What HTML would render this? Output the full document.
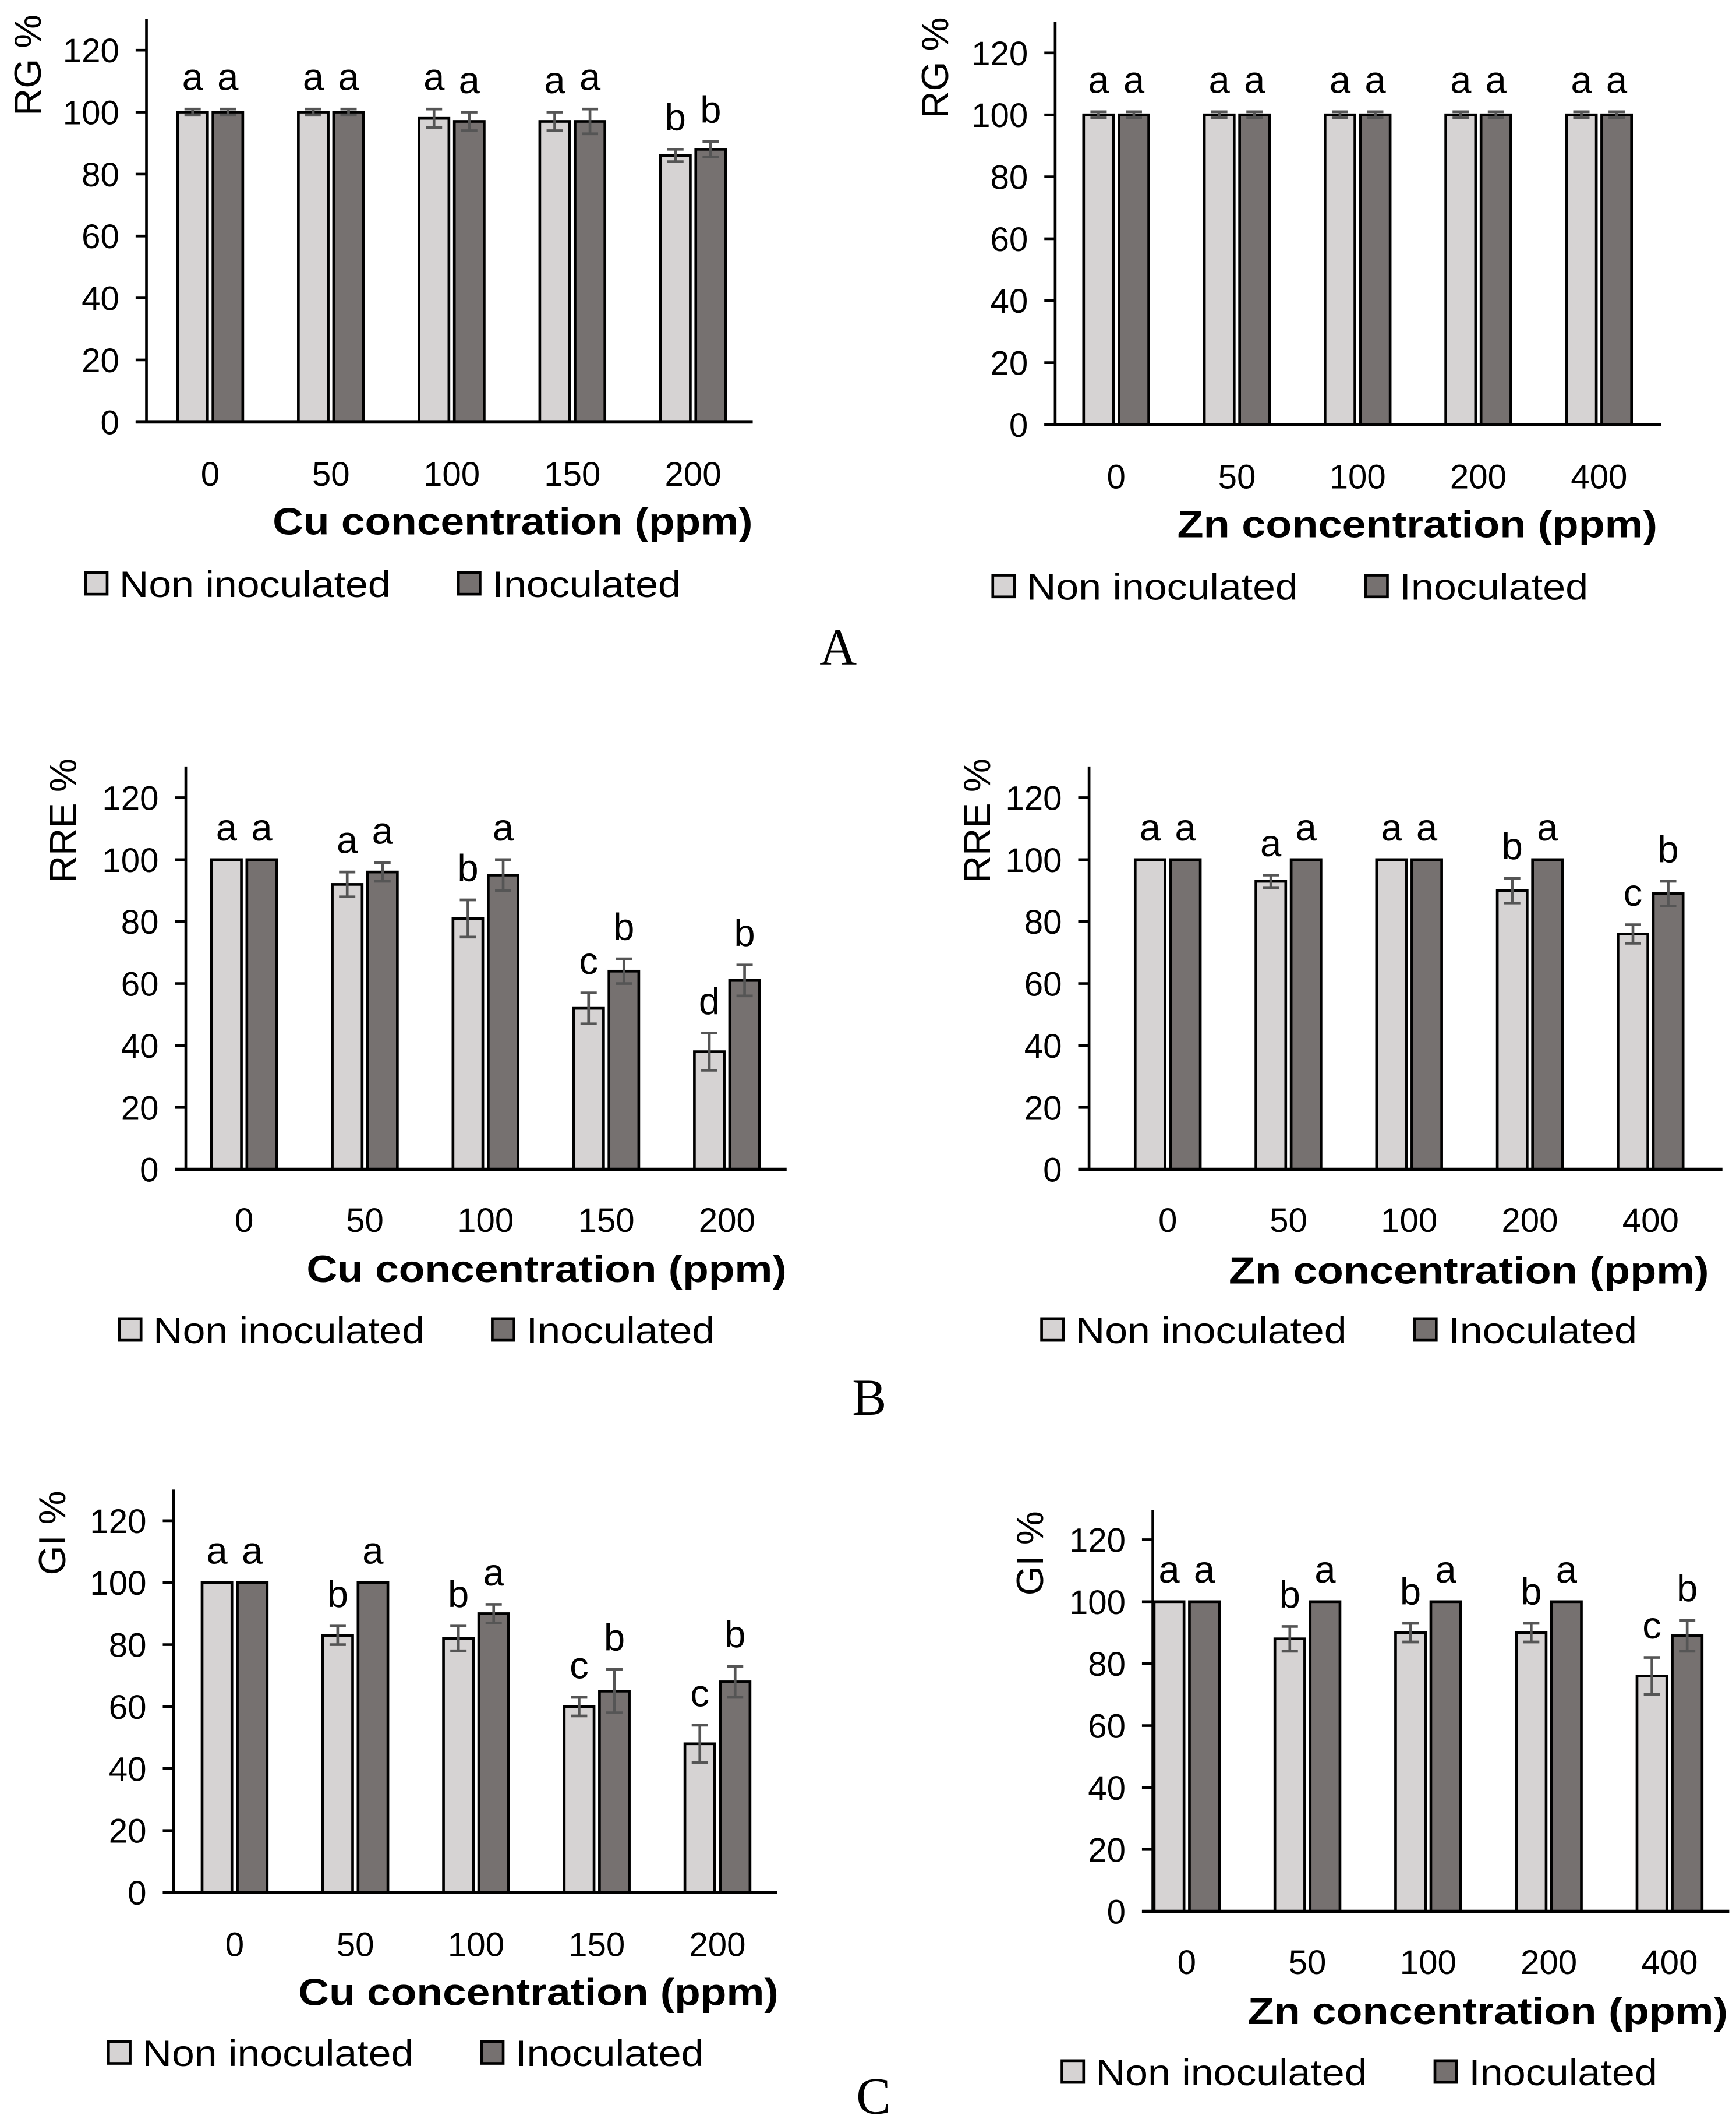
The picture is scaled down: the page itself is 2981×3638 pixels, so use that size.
<!DOCTYPE html>
<html><head><meta charset="utf-8"><style>
html,body{margin:0;padding:0;background:#fff}
svg{display:block}
text{font-family:"Liberation Sans",sans-serif;fill:#000}
</style></head><body>
<svg id="fig" width="2981" height="3638" viewBox="0 0 1280 1562" preserveAspectRatio="none" xmlns="http://www.w3.org/2000/svg"></svg>
<script>
const cuCats = ["0","50","100","150","200"];
const znCats = ["0","50","100","200","400"];
const yTicks = [0,20,40,60,80,100,120];
const aL_non = [100,100,98,97,86];
const aL_nonErr = [1,1,3,3,2];
const aL_ino = [100,100,97,97,88];
const aL_inoErr = [1,1,3,4,2.5];
const aL_letN = ["a","a","a","a","b"];
const aL_letI = ["a","a","a","a","b"];
const aR_non = [100,100,100,100,100];
const aR_nonErr = [1,1,1,1,1];
const aR_ino = [100,100,100,100,100];
const aR_inoErr = [1,1,1,1,1];
const aR_letN = ["a","a","a","a","a"];
const aR_letI = ["a","a","a","a","a"];
const bL_non = [100,92,81,52,38];
const bL_nonErr = [0,4,6,5,6];
const bL_ino = [100,96,95,64,61];
const bL_inoErr = [0,3,5,4,5];
const bL_letN = ["a","a","b","c","d"];
const bL_letI = ["a","a","a","b","b"];
const bR_non = [100,93,100,90,76];
const bR_nonErr = [0,2,0,4,3];
const bR_ino = [100,100,100,100,89];
const bR_inoErr = [0,0,0,0,4];
const bR_letN = ["a","a","a","b","c"];
const bR_letI = ["a","a","a","a","b"];
const cL_non = [100,83,82,60,48];
const cL_nonErr = [0,3,4,3,6];
const cL_ino = [100,100,90,65,68];
const cL_inoErr = [0,0,3,7,5];
const cL_letN = ["a","b","b","c","c"];
const cL_letI = ["a","a","a","b","b"];
const cR_non = [100,88,90,90,76];
const cR_nonErr = [0,4,3,3,6];
const cR_ino = [100,100,100,100,89];
const cR_inoErr = [0,0,0,0,5];
const cR_letN = ["a","b","b","b","c"];
const cR_letI = ["a","a","a","a","b"];

const NS="http://www.w3.org/2000/svg";
const svg=document.getElementById('fig');
function mk(tag,attrs,parent,txt){const e=document.createElementNS(NS,tag);for(const k in attrs)e.setAttribute(k,attrs[k]);if(txt!==undefined)e.textContent=txt;(parent||svg).appendChild(e);return e;}

const panels=[
 {id:'a-left',ax:108,y0:311,y120:37,top:14,xend:555,c0:155,yt:'RG %',ytx:20,yty:48,xl:349,xt:'Cu concentration (ppm)',xtc:378,xty:394,lg:430,l1:63,l2:338,cats:cuCats,non:aL_non,ne:aL_nonErr,ino:aL_ino,ie:aL_inoErr,ln:aL_letN,li:aL_letI},
 {id:'a-right',ax:778,y0:313,y120:39,top:16,xend:1225,c0:823,yt:'RG %',ytx:689,yty:50,xl:351,xt:'Zn concentration (ppm)',xtc:1045,xty:396,lg:432,l1:732,l2:1007,cats:znCats,non:aR_non,ne:aR_nonErr,ino:aR_ino,ie:aR_inoErr,ln:aR_letN,li:aR_letI},
 {id:'b-left',ax:137,y0:862,y120:588,top:565,xend:580,c0:180,yt:'RRE %',ytx:46,yty:605,xl:899,xt:'Cu concentration (ppm)',xtc:403,xty:945,lg:980,l1:88,l2:363,cats:cuCats,non:bL_non,ne:bL_nonErr,ino:bL_ino,ie:bL_inoErr,ln:bL_letN,li:bL_letI},
 {id:'b-right',ax:803,y0:862,y120:588,top:565,xend:1270,c0:861,yt:'RRE %',ytx:720,yty:605,xl:899,xt:'Zn concentration (ppm)',xtc:1083,xty:946,lg:980,l1:768,l2:1043,cats:znCats,non:bR_non,ne:bR_nonErr,ino:bR_ino,ie:bR_inoErr,ln:bR_letN,li:bR_letI},
 {id:'c-left',ax:128,y0:1395,y120:1121,top:1098,xend:573,c0:173,yt:'GI %',ytx:38,yty:1130,xl:1433,xt:'Cu concentration (ppm)',xtc:397,xty:1478,lg:1513,l1:80,l2:355,cats:cuCats,non:cL_non,ne:cL_nonErr,ino:cL_ino,ie:cL_inoErr,ln:cL_letN,li:cL_letI},
 {id:'c-right',ax:850,y0:1409,y120:1135,top:1113,xend:1275,c0:875,yt:'GI %',ytx:759,yty:1145,xl:1446,xt:'Zn concentration (ppm)',xtc:1097,xty:1492,lg:1527,l1:783,l2:1058,cats:znCats,non:cR_non,ne:cR_nonErr,ino:cR_ino,ie:cR_inoErr,ln:cR_letN,li:cR_letI}
];
const LIGHT='#d6d3d3', DARK='#767170', ERR='#555';
panels.forEach(p=>{
  const g=mk('g',{});
  
  
  const y=v=>p.y0-(p.y0-p.y120)*v/120;
  const x=i=>p.c0+89*i;
  p.cats.forEach((c,i)=>{
    [[p.non,p.ne,p.ln,-13,LIGHT,'non-inoculated'],[p.ino,p.ie,p.li,13,DARK,'inoculated']].forEach(s=>{
      const v=s[0][i], e=s[1][i], cx=x(i)+s[3];
      const r=mk('rect',{x:cx-11,y:y(v),width:22,height:p.y0-y(v),fill:s[4],stroke:'#000','stroke-width':2},g);
      
      
      if(e>0){
        const eb=mk('path',{d:`M${cx} ${y(v+e)}V${y(v-e)}M${cx-6} ${y(v+e)}H${cx+6}M${cx-6} ${y(v-e)}H${cx+6}`,stroke:ERR,'stroke-width':2,fill:'none'},g);
        
        
      }
      const t=mk('text',{x:cx,y:y(v+e)-14,'text-anchor':'middle','font-size':28},g,s[2][i]);
      
      
    });
    const xl=mk('text',{x:x(i),y:p.xl+9,'text-anchor':'middle','font-size':25},g,c);
    
    
  });
  const ya=mk('line',{x1:p.ax,y1:p.top,x2:p.ax,y2:p.y0,stroke:'#000','stroke-width':2},g);
  
  
  const xa=mk('line',{x1:p.ax-8,y1:p.y0,x2:p.xend,y2:p.y0,stroke:'#000','stroke-width':2.5},g);
  
  
  yTicks.forEach(t=>{
    mk('line',{x1:p.ax-8,y1:y(t),x2:p.ax,y2:y(t),stroke:'#000','stroke-width':2},g);
    const tl=mk('text',{x:p.ax-20,y:y(t)+9,'text-anchor':'end','font-size':25},g,String(t));
    
    
  });
  const yt=mk('text',{x:0,y:0,'text-anchor':'middle','font-size':28,transform:`translate(${p.ytx+10},${p.yty}) rotate(-90)`},g,p.yt);
  
  
  const xt=mk('text',{x:p.xtc,y:p.xty,'text-anchor':'middle','font-size':28,'font-weight':'bold',textLength:354,lengthAdjust:'spacingAndGlyphs'},g,p.xt);
  
  
  const lg=mk('g',{},g);
  
  
  mk('rect',{x:p.l1,y:p.lg-8,width:16,height:16,fill:LIGHT,stroke:'#000','stroke-width':2},lg);
  const t1=mk('text',{x:p.l1+25,y:p.lg+10,'font-size':27,textLength:200,lengthAdjust:'spacingAndGlyphs'},lg,'Non inoculated');
  
  
  mk('rect',{x:p.l2,y:p.lg-8,width:16,height:16,fill:DARK,stroke:'#000','stroke-width':2},lg);
  const t2=mk('text',{x:p.l2+25,y:p.lg+10,'font-size':27,textLength:139,lengthAdjust:'spacingAndGlyphs'},lg,'Inoculated');
  
  
});
[['A',618,490],['B',641,1043],['C',644,1558]].forEach(l=>{
  const t=mk('text',{x:l[1],y:l[2],'text-anchor':'middle','font-size':38,style:'font-family:"Liberation Serif",serif'},svg,l[0]);
  
  
});
</script>
</body></html>
